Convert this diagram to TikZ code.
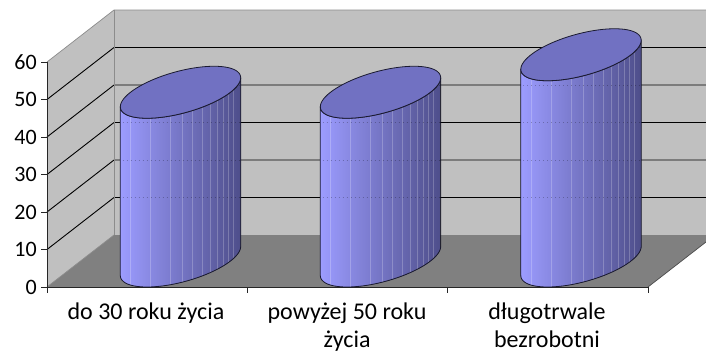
\documentclass[tikz,border=0pt]{standalone}
\usepackage{fontspec}
\setmainfont{Carlito}
\definecolor{wallc}{HTML}{C0C0C0}
\definecolor{floorc}{HTML}{808080}
\definecolor{edgec}{HTML}{8C8C8C}
\definecolor{cylL}{HTML}{9C9CFF}
\definecolor{cylM}{HTML}{7A7AD2}
\definecolor{cylR}{HTML}{4E4E8A}
\definecolor{cyltop}{HTML}{7171C2}
\definecolor{cyloutc}{HTML}{1A1A30}
\begin{document}
\begin{tikzpicture}[x=1pt,y=-1pt,
  gridln/.style={black, line width=0.9pt},
  edgeln/.style={edgec, line width=0.7pt},
  axisln/.style={black!85, line width=0.8pt},
  lab/.style={font=\fontsize{24}{28}\selectfont, text=black, inner sep=0pt, align=center, anchor=base},
  ylab/.style={font=\fontsize{22}{24}\selectfont, text=black, inner sep=0pt, anchor=east},
  cylside/.style={left color=cylL, middle color=cylM, right color=cylR},
  cylout/.style={draw=cyloutc, line width=0.8pt},
  stripe/.style={white, opacity=0.22, line width=0.6pt},
  seethru/.style={black, opacity=0.25, line width=0.7pt, dash pattern=on 1pt off 3pt}
]
\useasboundingbox (0,0) rectangle (706,353);
\clip (0,0) rectangle (706,353);
\fill[white] (0,0) rectangle (706,353);
% walls and floor
\fill[wallc] (114,10) rectangle (715,235);
\fill[wallc] (47,287) -- (47,62) -- (114,10) -- (114,235) -- cycle;
\fill[floorc] (47,287) -- (648,287) -- (715,235) -- (114,235) -- cycle;
% gridlines
\foreach \v in {10,20,30,40,50} {
  \pgfmathsetmacro\yf{287-3.75*\v}
  \pgfmathsetmacro\yb{\yf-52}
  \draw[gridln] (47,\yf) -- (114,\yb) -- (715,\yb);
}
\draw[edgeln] (47,62) -- (114,10) -- (715,10);
\draw[edgeln] (114,10) -- (114,235);
\draw[edgeln] (47,287) -- (114,235);
\draw[edgeln, draw=black!70] (648,287) -- (715,235);
% axes
\draw[axisln] (47,62) -- (47,287) -- (648,287);
\foreach \v in {0,10,...,60} {
  \pgfmathsetmacro\yf{287-3.75*\v}
  \draw[axisln] (41,\yf) -- (47,\yf);
  \node[ylab] (y\v) at (37,\yf) {\v};
}
\foreach \xx in {47,247,447,648} \draw[axisln] (\xx,287) -- (\xx,293);
% cylinders
\foreach \cx/\ct in {180.5/92.25, 380.5/92.25, 581/54.75} {
  \fill[cylside] plot[domain=213.8:393.8,samples=50] ({\cx+50*cos(\x)+33.5*sin(\x)},{\ct-26*sin(\x)})
     -- plot[domain=393.8:213.8,samples=50] ({\cx+50*cos(\x)+33.5*sin(\x)},{261-26*sin(\x)}) -- cycle;
  \begin{scope}
    \clip plot[domain=213.8:393.8,samples=50] ({\cx+50*cos(\x)+33.5*sin(\x)},{\ct-26*sin(\x)})
     -- plot[domain=393.8:213.8,samples=50] ({\cx+50*cos(\x)+33.5*sin(\x)},{261-26*sin(\x)}) -- cycle;
    \foreach \s in {10,30,50,62,72,82,90,97,103,108,113}
      \draw[stripe] (\cx-60+\s,0) -- (\cx-60+\s,300);
    \foreach \v in {10,20,30,40,50}
      \draw[seethru] (\cx-62,235-3.75*\v) -- (\cx+62,235-3.75*\v);
  \end{scope}
  \draw[cylout] plot[domain=213.8:393.8,samples=50] ({\cx+50*cos(\x)+33.5*sin(\x)},{\ct-26*sin(\x)})
     -- plot[domain=393.8:213.8,samples=50] ({\cx+50*cos(\x)+33.5*sin(\x)},{261-26*sin(\x)}) -- cycle;
  \draw[cylout, fill=cyltop] plot[domain=0:360,samples=90] ({\cx+50*cos(\x)+33.5*sin(\x)},{\ct-26*sin(\x)}) -- cycle;
}
% category labels (base anchor of a multi-line node is its last line)
\node[lab] (c1) at (146,319) {do 30 roku życia};
\node[lab] (c2) at (347,347) {powyżej 50 roku\\życia};
\node[lab] (c3) at (547,347) {długotrwale\\bezrobotni};
\end{tikzpicture}
\end{document}
